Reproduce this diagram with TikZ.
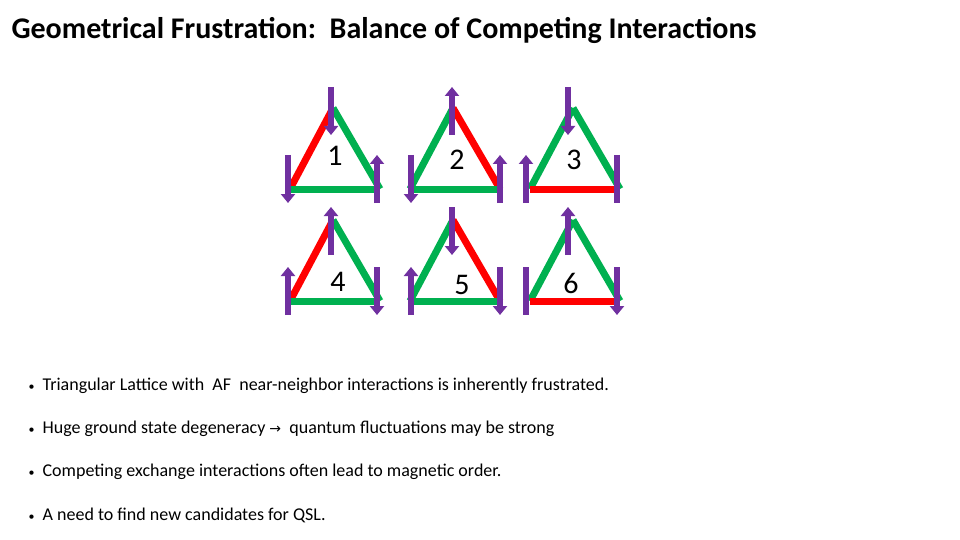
\documentclass[tikz,border=0pt]{standalone}
\usepackage{fontspec}
\setmainfont{Carlito}
\usetikzlibrary{arrows.meta}
\definecolor{pur}{HTML}{7030A0}
\definecolor{grn}{HTML}{00B050}
\definecolor{rd}{HTML}{FF0000}
\tikzset{
 edgeg/.style={draw=grn,line width=7pt},
 edger/.style={draw=rd,line width=7pt},
 spinbar/.style={draw=pur,line width=6pt},
 spinarr/.style={draw=pur,line width=6pt,-{Triangle[width=14pt,length=9pt]}},
 num/.style={font=\fontsize{30}{32}\selectfont},
 bul/.style={anchor=west,font=\fontsize{18}{20}\selectfont}
}
% #1 dx #2 dy #3 left #4 right #5 bottom #6 label pos #7 label
\newcommand{\tri}[7]{%
 \begin{scope}[shift={(#1,#2)}]
  \coordinate (A#7) at (333,108); \coordinate (L#7) at (290,189); \coordinate (R#7) at (380,189);
  \draw[#3] (L#7) -- (A#7);
  \draw[#4] (A#7) -- (R#7);
  \draw[#5] (L#7) -- (R#7);
  \node[num] (n#7) at #6 {#7};
 \end{scope}}
\newcommand{\spin}[4]{% name x ytop dir
 \coordinate (#1a) at (#2,#3); \coordinate (#1b) at (#2,#3+48);
 \ifx u#4 \draw[spinarr] (#1b) -- (#1a);\fi
 \ifx d#4 \draw[spinarr] (#1a) -- (#1b);\fi
 \ifx n#4 \draw[spinbar] (#1a) -- (#1b);\fi}
\begin{document}
\begin{tikzpicture}[x=1pt,y=-1pt]
\useasboundingbox (0,0) rectangle (960,540);
\node[anchor=west,font=\bfseries\fontsize{30}{32}\selectfont] (title) at (8,30) {Geometrical Frustration:\ \ Balance of Competing Interactions};
\tri{0}{0}{edger}{edgeg}{edgeg}{(335,156)}{1}
\tri{120}{0}{edgeg}{edger}{edgeg}{(337,160)}{2}
\tri{240}{0}{edgeg}{edgeg}{edger}{(334,160)}{3}
\tri{0}{112}{edger}{edgeg}{edgeg}{(338,170)}{4}
\tri{120}{112}{edgeg}{edger}{edgeg}{(342,173)}{5}
\tri{240}{112}{edgeg}{edgeg}{edger}{(331,171)}{6}
\spin{s1t}{331}{87}{d}\spin{s1l}{288}{155}{d}\spin{s1r}{377}{155}{u}
\spin{s2t}{452}{87}{u}\spin{s2l}{411}{155}{d}\spin{s2r}{500}{155}{u}
\spin{s3t}{568}{87}{d}\spin{s3l}{526}{155}{u}\spin{s3r}{617}{155}{n}
\spin{s4t}{331}{207}{u}\spin{s4l}{288}{267}{u}\spin{s4r}{377}{267}{d}
\spin{s5t}{452}{207}{d}\spin{s5l}{411}{267}{u}\spin{s5r}{500}{267}{d}
\spin{s6t}{568}{207}{u}\spin{s6l}{526}{267}{n}\spin{s6r}{617}{267}{d}
\node[bul] (b1) at (25,386) {{\fontsize{12}{14}\selectfont•}\ \ Triangular Lattice with\ \ AF\ \ near-neighbor interactions is inherently frustrated.};
\node[bul] (b2) at (25,429) {{\fontsize{12}{14}\selectfont•}\ \ Huge ground state degeneracy {\fontspec{DejaVu Sans}\fontsize{14}{16}\selectfont→}\ \ quantum fluctuations may be strong};
\node[bul] (b3) at (25,472) {{\fontsize{12}{14}\selectfont•}\ \ Competing exchange interactions often lead to magnetic order.};
\node[bul] (b4) at (25,515) {{\fontsize{12}{14}\selectfont•}\ \ A need to find new candidates for QSL.};
\end{tikzpicture}
\end{document}
